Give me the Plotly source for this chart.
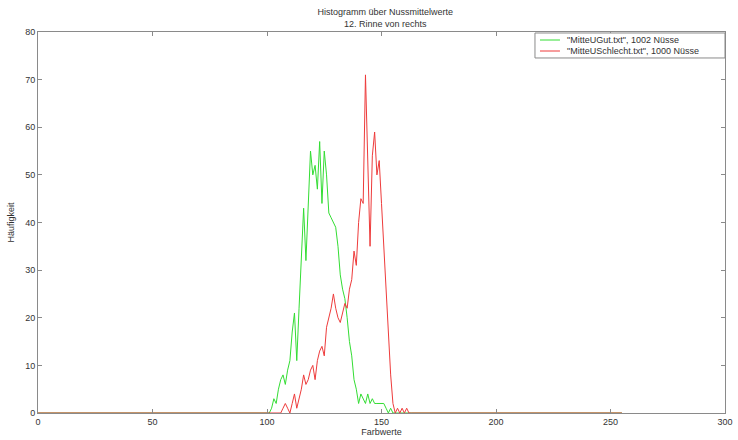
import plotly.graph_objects as go

# Bins (Farbwerte) 0..255
bins = list(range(0, 256))

# Green series: "MitteUGut.txt" counts, starting at bin 100
gut_start = 100
gut_counts = [0, 0, 1, 3, 2, 5, 7, 8, 6, 9,
              11, 17, 21, 11, 22, 32, 43, 32, 45, 55,
              50, 52, 47, 57, 44, 55, 50, 42, 41, 40,
              39, 35, 29, 26, 24, 20, 15, 12, 7, 5,
              2, 4, 3, 2, 4, 2, 3, 2, 2, 2,
              2, 2, 1, 0, 1, 0]

# Red series: "MitteUSchlecht.txt" counts, starting at bin 107
schlecht_start = 107
schlecht_counts = [1, 2, 1, 0, 2, 4, 1, 3, 5, 8,
                   6, 7, 9, 10, 7, 11, 13, 14, 12, 18,
                   20, 22, 25, 22, 20, 19, 21, 23, 22, 26,
                   28, 34, 31, 40, 45, 44, 71, 50, 35, 54,
                   59, 50, 53, 44, 35, 25, 16, 8, 2, 0,
                   1, 0, 1, 0, 1, 0]

series_names = ['"MitteUGut.txt", 1002 Nüsse', '"MitteUSchlecht.txt", 1000 Nüsse']
series_colors = ["#33dd33", "#ee3b3b"]

def full_series(start, counts):
    vals = [0] * len(bins)
    for i, c in enumerate(counts):
        vals[start + i] = c
    return vals

gut = full_series(gut_start, gut_counts)
schlecht = full_series(schlecht_start, schlecht_counts)

font_family = "Liberation Sans, Arial, sans-serif"
txt_color = "#333333"
axis_color = "#8a8a8a"

fig = go.Figure()
fig.add_trace(go.Scatter(x=bins, y=gut, mode="lines",
                         line=dict(color=series_colors[0], width=1),
                         name=series_names[0], showlegend=False))
fig.add_trace(go.Scatter(x=bins, y=schlecht, mode="lines",
                         line=dict(color=series_colors[1], width=1),
                         name=series_names[1], showlegend=False))

# compact MATLAB-style legend box (top right, inside axes)
fig.add_shape(type="rect", xref="paper", yref="paper",
              x0=0.7234, x1=1.0, y0=0.9318, y1=0.9974,
              line=dict(color=axis_color, width=1), fillcolor="white", layer="above")
legend_y = [0.979, 0.9501]
for name, col, ly in zip(series_names, series_colors, legend_y):
    fig.add_shape(type="line", xref="paper", yref="paper",
                  x0=0.7307, x1=0.7598, y0=ly, y1=ly,
                  line=dict(color=col, width=1), layer="above")
    fig.add_annotation(xref="paper", yref="paper", x=0.7671, y=ly,
                       xanchor="left", yanchor="middle", showarrow=False,
                       text=name, font=dict(size=9, color=txt_color))

fig.update_layout(
    width=738, height=440,
    margin=dict(l=38, r=13, t=32, b=27, autoexpand=False),
    paper_bgcolor="white", plot_bgcolor="white",
    font=dict(family=font_family, size=9, color=txt_color),
    title=dict(text="Histogramm über Nussmittelwerte<br>12. Rinne von rechts",
               x=0.522, xanchor="center", y=0.965, yanchor="top",
               font=dict(size=9, color=txt_color)),
    showlegend=False,
)

fig.update_xaxes(range=[0, 300], dtick=50, tick0=0, automargin=False,
                 showgrid=False, zeroline=False,
                 showline=True, linecolor=axis_color, linewidth=1, mirror="allticks",
                 ticks="inside", ticklen=4, tickcolor=axis_color,
                 tickfont=dict(size=9, color=txt_color),
                 title=dict(text="Farbwerte", font=dict(size=9, color=txt_color), standoff=2))
fig.update_yaxes(range=[0, 80], dtick=10, tick0=0, automargin=False,
                 showgrid=False, zeroline=False,
                 showline=True, linecolor=axis_color, linewidth=1, mirror="allticks",
                 ticks="inside", ticklen=4, tickcolor=axis_color,
                 tickfont=dict(size=9, color=txt_color),
                 title=dict(text="Häufigkeit", font=dict(size=9, color=txt_color), standoff=9))

fig.write_html("out.html", config={"displayModeBar": False},
               post_script="document.body.style.margin='0';document.body.style.overflow='hidden';")
